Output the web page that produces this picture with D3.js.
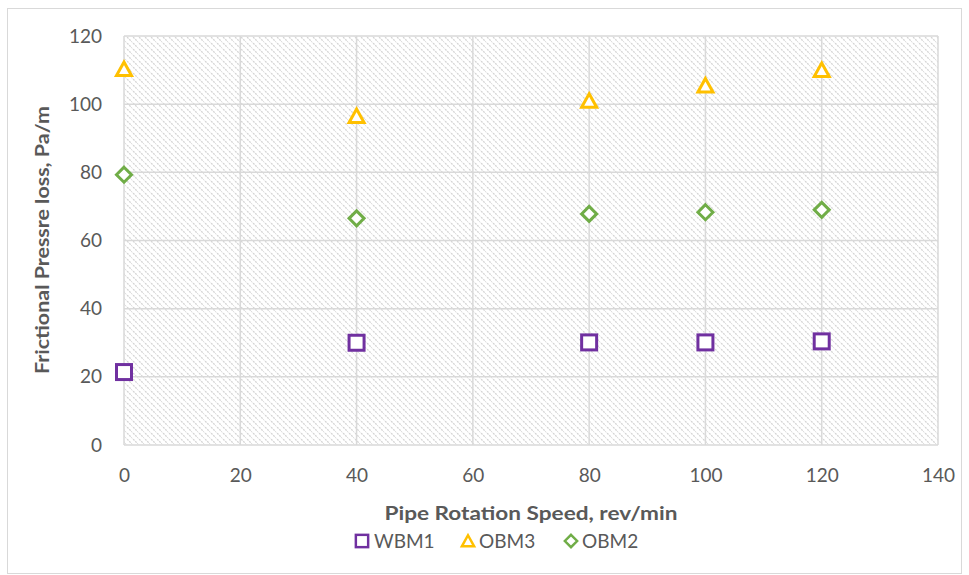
<!DOCTYPE html>
<html><head><meta charset="utf-8">
<script src="https://cdn.jsdelivr.net/npm/d3@7"></script>
<style>body{margin:0;background:#fff}svg{display:block}</style>
</head><body>
<svg id="c" width="969" height="575"></svg>
<script>
const speeds = [0, 40, 80, 100, 120];
const wbm1 = [21.4, 30.0, 30.1, 30.1, 30.4];
const obm3 = [110.3, 96.5, 101.0, 105.5, 110.0];
const obm2 = [79.3, 66.5, 67.8, 68.3, 69.0];
const xTicks = [0, 20, 40, 60, 80, 100, 120, 140];
const yTicks = [0, 20, 40, 60, 80, 100, 120];
const seriesNames = ["WBM1", "OBM3", "OBM2"];
const colors = ["#7030A0", "#FFC000", "#70AD47"];

const svg = d3.select("#c");
const font = "Lato, 'Open Sans', sans-serif";
svg.append("rect").attr("x",7.5).attr("y",8.5).attr("width",954).attr("height",565).attr("fill","#fff").attr("stroke","#d9d9d9");

const defs = svg.append("defs");
const pat = defs.append("pattern").attr("id","hatch").attr("patternUnits","userSpaceOnUse").attr("width",6).attr("height",6);
pat.append("rect").attr("width",6).attr("height",6).attr("fill","#fff");
pat.append("path").attr("d","M-1,-1 L7,7 M-4,2 L2,8 M4,-2 L8,2").attr("stroke","#d4d4d4").attr("stroke-width",1.3).attr("stroke-dasharray","2,1");

const x = d3.scaleLinear().domain([0,140]).range([124,938]);
const y = d3.scaleLinear().domain([0,120]).range([445,36]);

svg.append("rect").attr("x",x(0)).attr("y",y(120)).attr("width",x(140)-x(0)).attr("height",y(0)-y(120)).attr("fill","url(#hatch)");

const g = svg.append("g");
g.selectAll(".vg").data(xTicks).join("line").attr("x1",d=>x(d)).attr("x2",d=>x(d)).attr("y1",y(0)).attr("y2",y(120)).attr("stroke","#d9d9d9").attr("stroke-width",1.5);
g.selectAll(".hg").data(yTicks).join("line").attr("y1",d=>y(d)).attr("y2",d=>y(d)).attr("x1",x(0)).attr("x2",x(140)).attr("stroke","#d9d9d9").attr("stroke-width",1.5);

const xa = svg.append("g").attr("transform",`translate(0,${y(0)})`).call(d3.axisBottom(x).tickValues(xTicks).tickSize(0).tickPadding(24));
xa.select(".domain").remove();
xa.selectAll("text").attr("font-family",font).attr("font-size",19).attr("fill","#595959");
const ya = svg.append("g").attr("transform",`translate(${x(0)},0)`).call(d3.axisLeft(y).tickValues(yTicks).tickSize(0).tickPadding(22));
ya.select(".domain").remove();
ya.selectAll("text").attr("font-family",font).attr("font-size",19).attr("fill","#595959");

svg.append("text").attr("x",531).attr("y",520).attr("text-anchor","middle").attr("font-family",font).attr("font-weight","bold").attr("font-size",18).attr("fill","#595959").attr("textLength",293).attr("lengthAdjust","spacingAndGlyphs").text("Pipe Rotation Speed, rev/min");
svg.append("text").attr("transform","translate(49,240) rotate(-90)").attr("text-anchor","middle").attr("font-family",font).attr("font-weight","bold").attr("font-size",18).attr("fill","#595959").attr("textLength",268).attr("lengthAdjust","spacingAndGlyphs").text("Frictional Pressre loss, Pa/m");

function marker(sel, type, color){
  if(type===0) sel.append("rect").attr("x",-7.5).attr("y",-7.5).attr("width",15).attr("height",15).attr("fill","#fff").attr("stroke",color).attr("stroke-width",3);
  else if(type===1) sel.append("path").attr("d","M0,-7 L7.5,6.5 L-7.5,6.5 Z").attr("fill","#fff").attr("stroke",color).attr("stroke-width",3);
  else sel.append("path").attr("d","M0,-7.5 L7.5,0 L0,7.5 L-7.5,0 Z").attr("fill","#fff").attr("stroke",color).attr("stroke-width",3);
}
[wbm1, obm3, obm2].forEach((vals,i)=>{
  svg.append("g").selectAll("g").data(vals).join("g").attr("transform",(d,j)=>`translate(${x(speeds[j])},${y(d)})`).each(function(){marker(d3.select(this), i, colors[i]);});
});

const legX = [362, 468, 571];
seriesNames.forEach((n,i)=>{
  const lg = svg.append("g").attr("transform",`translate(${legX[i]},541)`);
  const m = lg.append("g").attr("transform","scale(0.82)");
  marker(m, i, colors[i]);
  lg.append("text").attr("x",i===0?12:11).attr("y",7).attr("font-family",font).attr("font-size",19).attr("fill","#595959").text(n);
});
</script>
</body></html>
